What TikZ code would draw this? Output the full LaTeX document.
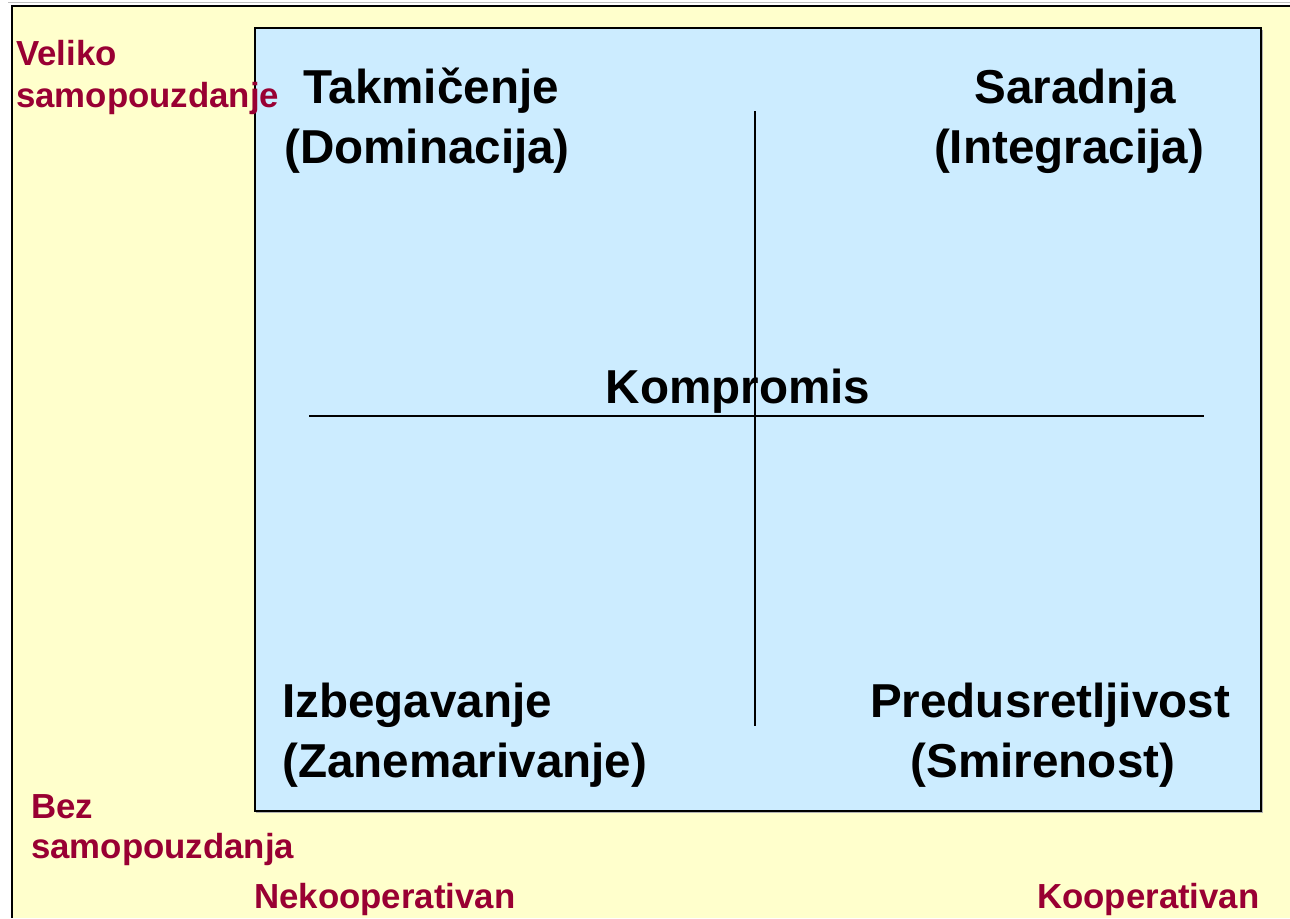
\documentclass[tikz,border=0pt]{standalone}
\usepackage{fontspec}
\setmainfont{Liberation Sans}
\definecolor{bgyellow}{HTML}{FFFFCC}
\definecolor{boxblue}{HTML}{CCECFF}
\definecolor{labelred}{HTML}{990033}
\tikzset{
  big/.style={inner sep=0pt, font=\fontsize{47.6}{56}\selectfont\bfseries, text=black},
  axislabel/.style={inner sep=0pt, font=\fontsize{34.8}{40}\selectfont\bfseries, text=labelred},
  divider/.style={line width=2.2pt, black}
}
\begin{document}
\begin{tikzpicture}[x=1pt,y=-1pt]
\useasboundingbox (0,0) rectangle (1290,918);
\fill[white] (0,0) rectangle (1290,918);
\draw[gray!50, line width=1.5pt] (8,2.5) -- (1290,2.5);
\fill[bgyellow] (11.5,5.5) rectangle (1290,918);
\draw[line width=2pt] (11.5,918) -- (11.5,5.5) -- (1290,5.5);
% inner box
\fill[gray!60] (256,30) rectangle (1262.5,812.5);
\node[draw, line width=2pt, fill=boxblue, minimum width=1006.5pt, minimum height=783pt, inner sep=0pt, anchor=north west] (box) at (253.5,27) {};
% dividers
\coordinate (vt) at (755,111);
\coordinate (vb) at (755,726);
\coordinate (hl) at (309,416);
\coordinate (hr) at (1204,416);
\draw[divider] (vt) -- (vb);
\draw[divider] (hl) -- (hr);
% quadrant labels
\node[big, anchor=base] (t1) at (431,103) {Takmičenje};
\node[big, anchor=base] (t2) at (427,163) {(Dominacija)};
\node[big, anchor=base] (s1) at (1075,103) {Saradnja};
\node[big, anchor=base] (s2) at (1069,163) {(Integracija)};
\node[big, anchor=base] (k) at (738,403) {Kompromis};
\node[big, anchor=base west] (i1) at (282,717) {Izbegavanje};
\node[big, anchor=base west] (i2) at (282,777) {(Zanemarivanje)};
\node[big, anchor=base] (p1) at (1050,717) {Predusretljivost};
\node[big, anchor=base] (p2) at (1043,777) {(Smirenost)};
% axis labels
\node[axislabel, anchor=base west] (v1) at (16,65) {Veliko};
\node[axislabel, anchor=base west] (v2) at (16,107) {samopouzdanje};
\node[axislabel, anchor=base west] (b1) at (31,818) {Bez};
\node[axislabel, anchor=base west] (b2) at (31,858) {samopouzdanja};
\node[axislabel, anchor=base west] (n) at (254,908) {Nekooperativan};
\node[axislabel, anchor=base west] (c) at (1037,908) {Kooperativan};
\end{tikzpicture}
\end{document}
